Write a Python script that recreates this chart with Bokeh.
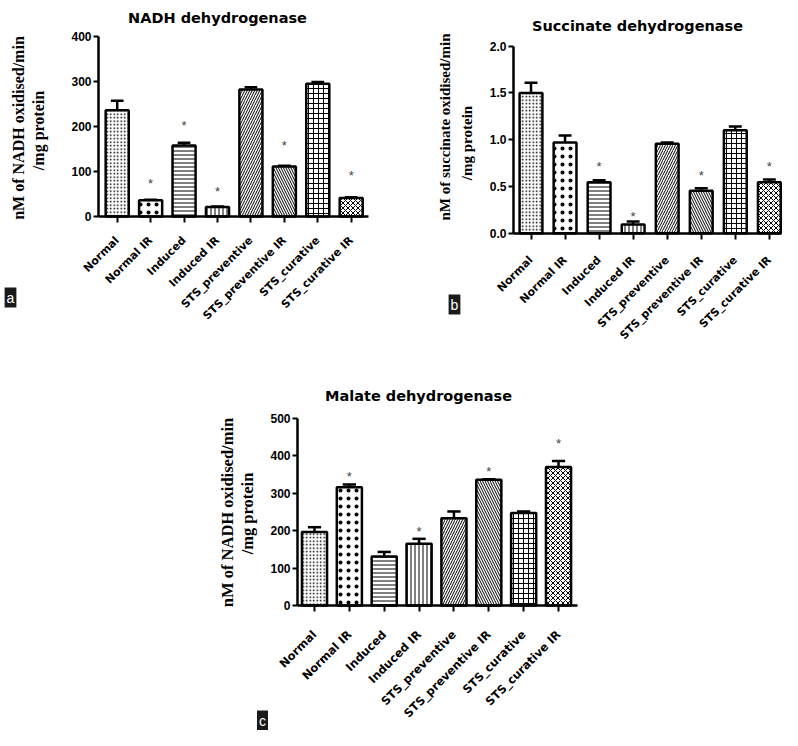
from bokeh.plotting import figure
from bokeh.models import ColumnDataSource, Label, FixedTicker, Range1d, PrintfTickFormatter
from bokeh.layouts import row, column
from bokeh.embed import file_html
from bokeh.resources import INLINE
from bokeh.core.properties import value
import math

# ---------------- data ----------------
groups = ["Normal", "Normal IR", "Induced", "Induced IR",
          "STS_preventive", "STS_preventive IR", "STS_curative", "STS_curative IR"]

nadh_mean = [236, 36, 158, 21, 282, 111, 295, 41]
nadh_upper = [257, 37, 164, 22, 287, 113, 299, 43]
nadh_star_groups = ["Normal IR", "Induced", "Induced IR", "STS_preventive IR", "STS_curative IR"]
nadh_star_y = [80, 208, 63, 165, 98]
nadh_ticks = [0, 100, 200, 300, 400]

sdh_mean = [1.50, 0.97, 0.545, 0.093, 0.956, 0.453, 1.10, 0.545]
sdh_upper = [1.61, 1.045, 0.565, 0.125, 0.97, 0.48, 1.14, 0.575]
sdh_star_groups = ["Induced", "Induced IR", "STS_preventive IR", "STS_curative IR"]
sdh_star_y = [0.75, 0.215, 0.645, 0.75]
sdh_ticks = [0.0, 0.5, 1.0, 1.5, 2.0]

mdh_mean = [196, 316, 131, 165, 233, 336, 247, 370]
mdh_upper = [209, 323, 143, 178, 251, 337, 251, 386]
mdh_star_groups = ["Normal IR", "Induced IR", "STS_preventive IR", "STS_curative IR"]
mdh_star_y = [353, 206, 366, 441]
mdh_ticks = [0, 100, 200, 300, 400, 500]

# ---------------- styles ----------------
patterns = ["dot", "dot", "horizontal_line", "vertical_line",
            "right_diagonal_line", "left_diagonal_line", "cross", "diagonal_cross"]
hscales = [3.5, 8, 4, 4, 5, 5, 5, 5]
hweights = [3.0, 6.0, 1, 1, 1, 1, 1, 1]

# ---------------- layout geometry (screen pixels) ----------------
# rect = (left, top, right, bottom) of each figure
GEOM = {
    "a": dict(rect=(0, 0, 398, 350), cx0=116.7, dx=33.43, y0=216.0, k=0.45,
              axis_left=98, axis_right=368),
    "b": dict(rect=(398, 0, 782, 350), cx0=530.5, dx=34.05, y0=232.7, k=93.5,
              axis_left=513, axis_right=781),
    "c": dict(rect=(0, 350, 782, 730), cx0=314.0, dx=34.86, y0=605.0, k=0.3746,
              axis_left=297, axis_right=577),
}


def make_panel(g, title, ylab1, ylab2, means, uppers, star_groups, star_y, ticks, ymax,
               bar_w, letter, title_pos, ylab1_pos, ylab2_pos, letter_pos,
               xlab_size, ylab_size, xlab_standoff, fmt=None):
    L, T, R, B = g["rect"]
    px2x = lambda px: (px - g["cx0"]) / g["dx"]
    px2y = lambda py: (g["y0"] - py) / g["k"]

    p = figure(width=R - L, height=B - T, output_backend="svg", toolbar_location=None,
               x_range=Range1d(px2x(L), px2x(R)), y_range=Range1d(px2y(B), px2y(T)),
               min_border=0, min_border_left=0, min_border_right=0,
               min_border_top=0, min_border_bottom=0)
    p.outline_line_color = None
    p.grid.visible = False
    p.background_fill_color = "white"
    p.border_fill_color = "white"

    xs = list(range(len(groups)))
    src = ColumnDataSource(dict(x=xs, top=means, upper=uppers,
                                pattern=patterns, scale=hscales, weight=hweights))
    p.vbar(x="x", top="top", bottom=0, width=bar_w, source=src,
           fill_color="white", line_color="black", line_width=2.5,
           hatch_pattern="pattern", hatch_scale="scale", hatch_weight="weight",
           hatch_color="black")
    p.segment(x0="x", y0="top", x1="x", y1="upper", source=src,
              line_color="black", line_width=2.5)
    cap = 0.19
    p.segment(x0=[x - cap for x in xs], y0=uppers, x1=[x + cap for x in xs], y1=uppers,
              line_color="black", line_width=2.5)

    sx = [groups.index(s) for s in star_groups]
    p.text(x=sx, y=star_y, text=["*"] * len(sx), text_align="center",
           text_baseline="middle", text_font_size="13px", text_color="#444444",
           text_font=value("Liberation Sans"), y_offset=3)

    # axes, pinned at the axis origin
    xa, ya = p.xaxis[0], p.yaxis[0]
    xa.fixed_location = 0
    xa.bounds = (px2x(g["axis_left"]), px2x(g["axis_right"]))
    ya.fixed_location = px2x(g["axis_left"])
    ya.bounds = (0, ymax)
    for ax in (xa, ya):
        ax.axis_line_width = 2.5
        ax.major_tick_line_width = 2
        ax.major_tick_in = 0
        ax.minor_tick_line_color = None
        ax.major_label_text_font_style = "bold"
        ax.major_label_text_color = "black"
    xa.major_tick_out = 6
    ya.major_tick_out = 5
    xa.ticker = FixedTicker(ticks=xs)
    xa.major_label_overrides = {i: s for i, s in enumerate(groups)}
    xa.major_label_orientation = math.pi / 4
    xa.major_label_text_font = "DejaVu Sans"
    xa.major_label_text_font_size = xlab_size
    xa.major_label_standoff = xlab_standoff
    ya.ticker = FixedTicker(ticks=ticks)
    ya.major_label_text_font = "Liberation Sans"
    ya.major_label_text_font_size = "12px"
    ya.major_label_standoff = 2
    if fmt:
        ya.formatter = PrintfTickFormatter(format=fmt)

    # chart title
    p.text(x=[px2x(title_pos[0])], y=[px2y(title_pos[1])], text=[title],
           text_align="center", text_baseline="alphabetic",
           text_font=value("DejaVu Sans"), text_font_style="bold",
           text_font_size="14.5px", text_color="black")
    # y axis label (two lines)
    for txt, pos in ((ylab1, ylab1_pos), (ylab2, ylab2_pos)):
        p.add_layout(Label(x=px2x(pos[0]), y=px2y(pos[1]), text=txt, angle=math.pi / 2,
                           text_align="center", text_baseline="middle",
                           text_font="Liberation Serif", text_font_style="bold",
                           text_font_size=ylab_size, text_color="black"))
    # panel letter
    p.add_layout(Label(x=px2x(letter_pos[0]), y=px2y(letter_pos[1]), text=letter,
                       text_align="center", text_baseline="middle",
                       text_font="Liberation Sans", text_font_size="14px",
                       text_color="white", background_fill_color="#1a1a1a", padding=2))
    return p


pa = make_panel(GEOM["a"], "NADH dehydrogenase", "nM of NADH oxidised/min", "/mg protein",
                nadh_mean, nadh_upper, nadh_star_groups, nadh_star_y, nadh_ticks, 400,
                bar_w=0.69, letter="a", title_pos=(217, 17), ylab1_pos=(18, 127.5),
                ylab2_pos=(38, 130), letter_pos=(10, 297), xlab_size="11px",
                ylab_size="16px", xlab_standoff=16)

pb = make_panel(GEOM["b"], "Succinate dehydrogenase", "nM of succinate oxidised/min", "/mg protein",
                sdh_mean, sdh_upper, sdh_star_groups, sdh_star_y, sdh_ticks, 2.0,
                bar_w=0.67, letter="b", title_pos=(637, 25), ylab1_pos=(444, 126.5),
                ylab2_pos=(466, 142.5), letter_pos=(454, 304), xlab_size="11px",
                ylab_size="15px", xlab_standoff=19, fmt="%.1f")

pc = make_panel(GEOM["c"], "Malate dehydrogenase", "nM of NADH oxidised/min", "/mg protein",
                mdh_mean, mdh_upper, mdh_star_groups, mdh_star_y, mdh_ticks, 500,
                bar_w=0.72, letter="c", title_pos=(418, 395), ylab1_pos=(227, 512),
                ylab2_pos=(247, 513), letter_pos=(262, 720), xlab_size="11.5px",
                ylab_size="16.5px", xlab_standoff=21)

layout = column(row(pa, pb), pc)

with open("out.html", "w") as f:
    f.write(file_html(layout, INLINE))
